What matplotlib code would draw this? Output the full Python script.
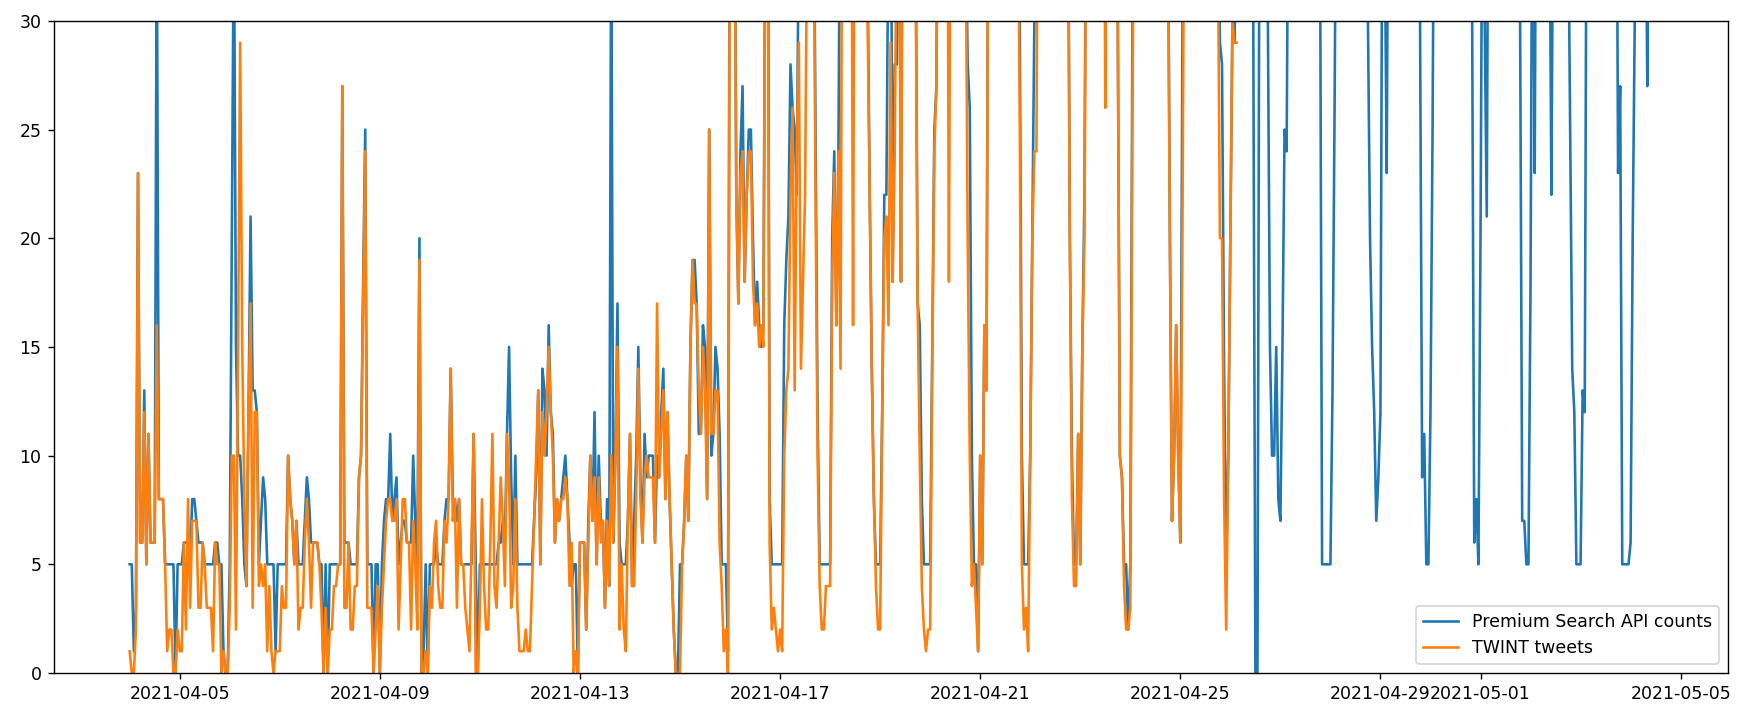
import matplotlib
matplotlib.use("Agg")
import matplotlib.pyplot as plt
import pandas as pd

# hourly counts, starting 2021-04-04 00:00 (one row = one day)
premium_counts = [
    5, 5, 1, 3, 23, 6, 6, 13, 5, 11, 6, 6, 6, 35, 8, 8, 8, 5, 5, 5, 5, 5, 0, 5,
    5, 5, 6, 6, 6, 5, 8, 8, 7, 6, 6, 6, 5, 5, 5, 5, 5, 6, 6, 5, 5, 1, 0, 0,
    5, 20, 35, 15, 10, 10, 8, 5, 4, 12, 21, 13, 13, 12, 5, 7, 9, 8, 5, 5, 5, 5, 1, 5,
    5, 5, 5, 5, 10, 8, 7, 5, 7, 5, 5, 5, 7, 9, 8, 6, 6, 6, 6, 5, 5, 0, 5, 0,
    5, 5, 5, 5, 5, 5, 27, 6, 6, 6, 5, 5, 5, 5, 9, 10, 18, 25, 5, 5, 5, 0, 5, 5,
    0, 5, 7, 8, 8, 11, 7, 8, 9, 5, 6, 7, 7, 6, 6, 6, 10, 7, 5, 20, 0, 1, 5, 0,
    5, 5, 5, 6, 5, 5, 5, 7, 8, 8, 14, 8, 8, 7, 8, 5, 5, 5, 5, 5, 5, 11, 5, 0,
    5, 5, 5, 5, 5, 5, 5, 5, 5, 6, 6, 7, 6, 11, 15, 9, 5, 10, 5, 5, 5, 5, 5, 5,
    5, 5, 7, 9, 13, 5, 14, 13, 10, 16, 12, 11, 6, 8, 7, 8, 9, 10, 8, 6, 4, 5, 5, 0,
    6, 6, 6, 2, 7, 10, 7, 12, 5, 10, 7, 7, 3, 8, 4, 35, 6, 10, 17, 6, 5, 5, 5, 7,
    11, 4, 7, 10, 15, 9, 6, 11, 9, 10, 10, 10, 6, 10, 9, 12, 14, 8, 12, 8, 5, 2, 0, 0,
    5, 5, 7, 10, 7, 15, 19, 19, 17, 11, 11, 16, 15, 8, 25, 10, 11, 15, 14, 11, 5, 5, 5, 1,
    45, 52, 41, 22, 17, 24, 27, 18, 22, 25, 25, 20, 16, 18, 16, 15, 16, 38, 44, 8, 5, 5, 5, 5,
    5, 5, 16, 19, 21, 28, 26, 25, 22, 35, 48, 56, 61, 47, 53, 42, 39, 25, 12, 5, 5, 5, 5, 5,
    5, 20, 24, 16, 24, 41, 47, 55, 62, 58, 49, 44, 51, 46, 40, 35, 43, 37, 32, 22, 14, 8, 5, 5,
    5, 12, 22, 22, 35, 42, 18, 28, 28, 44, 18, 46, 57, 63, 55, 48, 41, 35, 17, 16, 8, 5, 5, 5,
    5, 15, 25, 27, 45, 58, 66, 61, 50, 43, 47, 52, 59, 64, 57, 49, 44, 35, 28, 26, 10, 5, 5, 1,
    10, 5, 16, 13, 42, 55, 68, 74, 63, 57, 49, 41, 36, 44, 52, 60, 48, 39, 40, 30, 10, 5, 5, 5,
    10, 20, 30, 43, 51, 58, 64, 70, 62, 55, 47, 41, 38, 46, 53, 59, 49, 42, 40, 20, 10, 5, 5, 11,
    5, 15, 22, 41, 56, 63, 58, 49, 44, 39, 47, 55, 61, 52, 45, 38, 42, 33, 30, 10, 9, 5, 5, 2,
    5, 30, 44, 57, 66, 71, 60, 53, 46, 40, 48, 56, 63, 58, 50, 43, 39, 45, 37, 20, 7, 10, 16, 10,
    6, 30, 42, 55, 64, 69, 58, 51, 45, 39, 47, 54, 62, 57, 49, 44, 38, 41, 36, 29, 28, 14, 5, 10,
    20, 30, 29, 35, 44, 52, 61, 57, 48, 42, 39, 30, 0, 0, 38, 47, 44, 36, 30, 15, 10, 10, 15, 8,
    7, 15, 25, 24, 41, 50, 58, 66, 61, 54, 47, 43, 39, 45, 52, 59, 63, 49, 40, 35, 5, 5, 5, 5,
    5, 13, 26, 42, 51, 60, 67, 72, 64, 56, 48, 41, 37, 44, 53, 61, 55, 46, 30, 20, 15, 12, 7, 9,
    12, 40, 35, 23, 44, 53, 62, 68, 59, 51, 46, 40, 38, 45, 54, 60, 57, 48, 41, 30, 9, 11, 5, 5,
    12, 25, 43, 52, 61, 69, 74, 66, 58, 50, 45, 39, 42, 49, 57, 63, 55, 47, 40, 36, 30, 6, 8, 5,
    20, 40, 30, 21, 45, 54, 63, 70, 62, 53, 47, 41, 38, 44, 52, 59, 56, 48, 39, 30, 7, 7, 5, 5,
    18, 41, 23, 47, 56, 64, 58, 50, 43, 38, 22, 39, 46, 55, 62, 57, 49, 42, 36, 25, 14, 12, 5, 5,
    5, 13, 12, 41, 50, 59, 66, 71, 63, 55, 48, 42, 37, 45, 53, 60, 51, 44, 23, 27, 5, 5, 5, 5,
    6, 20, 30, 42, 51, 58, 49, 40, 27, 41, 38,
]

twint_tweets = [
    1, 0, 0, 2, 23, 6, 6, 12, 5, 11, 6, 6, 6, 16, 8, 8, 8, 5, 1, 2, 2, 0, 0, 2,
    1, 1, 6, 2, 8, 3, 7, 7, 7, 3, 3, 6, 5, 3, 3, 3, 1, 6, 5, 5, 0, 1, 0, 0,
    3, 10, 10, 2, 15, 29, 15, 8, 4, 12, 17, 3, 12, 12, 4, 5, 4, 5, 1, 4, 1, 0, 1, 1,
    1, 4, 3, 3, 10, 8, 7, 5, 7, 2, 3, 3, 6, 8, 6, 3, 6, 6, 6, 5, 3, 0, 3, 0,
    2, 2, 4, 4, 5, 5, 27, 3, 3, 6, 2, 2, 4, 4, 9, 10, 17, 24, 3, 3, 3, 0, 2, 4,
    0, 3, 5, 7, 8, 8, 7, 7, 8, 2, 5, 8, 8, 6, 6, 2, 7, 5, 2, 19, 0, 0, 1, 0,
    4, 3, 6, 7, 4, 3, 3, 7, 6, 8, 14, 7, 8, 3, 8, 5, 5, 3, 2, 1, 6, 11, 0, 0,
    3, 8, 4, 2, 2, 6, 11, 4, 3, 6, 9, 7, 4, 11, 9, 3, 4, 8, 3, 1, 1, 1, 2, 1,
    1, 4, 7, 10, 13, 5, 12, 10, 12, 15, 12, 10, 6, 8, 7, 8, 8, 9, 8, 4, 6, 0, 1, 0,
    6, 6, 6, 2, 6, 10, 7, 9, 5, 9, 6, 7, 3, 7, 4, 10, 6, 10, 15, 2, 5, 2, 1, 7,
    11, 4, 4, 8, 14, 8, 6, 9, 10, 9, 9, 9, 6, 17, 9, 11, 13, 8, 12, 8, 5, 2, 0, 0,
    0, 5, 7, 10, 7, 15, 19, 17, 17, 13, 11, 15, 13, 8, 25, 11, 11, 13, 13, 6, 4, 1, 2, 0,
    40, 47, 38, 22, 17, 23, 24, 18, 22, 24, 24, 18, 16, 17, 15, 16, 15, 36, 42, 6, 2, 3, 2, 1,
    2, 1, 10, 13, 14, 22, 26, 13, 24, 29, 14, 18, 22, 35, 50, 44, 37, 22, 10, 4, 2, 2, 4, 4,
    4, 18, 23, 16, 24, 14, 44, 52, 58, 54, 46, 16, 48, 43, 38, 33, 41, 35, 30, 22, 14, 8, 4, 2,
    2, 12, 20, 21, 16, 29, 18, 24, 36, 41, 18, 44, 55, 60, 52, 45, 39, 33, 17, 10, 4, 2, 1, 2,
    2, 14, 24, 27, 43, 56, 63, 58, 48, 18, 45, 50, 57, 61, 55, 47, 42, 35, 20, 10, 4, 5, 3, 1,
    10, 5, 16, 13, 40, 53, 66, 71, 60, 54, 47, 39, 30, 42, 50, 58, 46, 37, 38, 25, 5, 2, 3, 1,
    10, 20, 24, 24, 48, 55, 61, 67, 59, 52, 45, 39, 36, 44, 50, 56, 47, 40, 38, 20, 8, 4, 4, 11,
    5, 15, 20, 39, 53, 60, 55, 47, 42, 37, 45, 51, 26, 58, 50, 43, 36, 33, 30, 10, 9, 4, 2, 2,
    3, 25, 42, 55, 63, 68, 58, 51, 44, 38, 46, 54, 60, 56, 48, 41, 37, 43, 35, 20, 7, 10, 16, 10,
    6, 20, 40, 53, 62, 66, 56, 49, 43, 37, 45, 52, 60, 55, 47, 42, 36, 39, 34, 20, 20, 8, 2, 10,
    20, 30, 29, 29,
]

start = "2021-04-04 00:00"
labels = ["Premium Search API counts", "TWINT tweets"]

premium = pd.Series(premium_counts,
                    index=pd.date_range(start, periods=len(premium_counts), freq="h"))
twint = pd.Series(twint_tweets,
                  index=pd.date_range(start, periods=len(twint_tweets), freq="h"))

fig, ax = plt.subplots(figsize=(14.008, 5.768), dpi=125)
fig.subplots_adjust(left=0.0306, right=0.9866, top=0.971, bottom=0.0666)

ax.plot(premium.index, premium.values, label=labels[0])
ax.plot(twint.index, twint.values, label=labels[1])
ax.set_ylim(0, 30)
ax.legend(loc="lower right")

fig.savefig("out.png", dpi=125)
